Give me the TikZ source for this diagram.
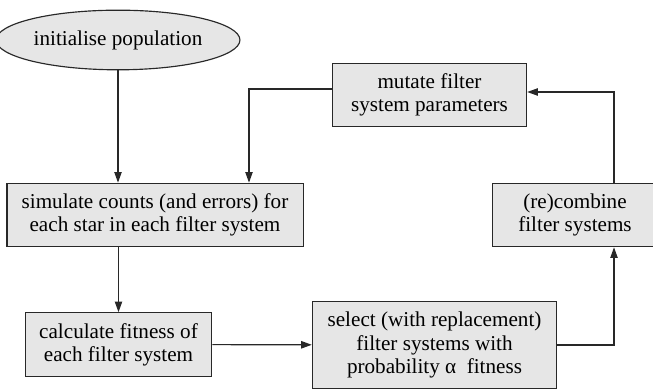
\documentclass[tikz,border=0pt]{standalone}
\usepackage{fontspec}
\newfontfamily\boxfont{Liberation Serif}[Scale=1.1]
\usepackage{tikz}
\usetikzlibrary{shapes.geometric, arrows.meta, positioning, calc}
\definecolor{BoxFill}{RGB}{230, 230, 230}
\definecolor{LineGrey}{RGB}{40, 40, 40}

\begin{document}
\begin{tikzpicture}[
  x=0.52pt, y=0.52pt,
  box/.style={draw=LineGrey, fill=BoxFill, line width=0.6pt,
    minimum height=33pt, align=center, inner sep=2pt, font=\boxfont},
  oval/.style={ellipse, draw=LineGrey, fill=BoxFill, line width=0.6pt,
    minimum width=110pt, minimum height=31pt, inner sep=1pt, font=\boxfont},
  arr/.style={-{Triangle[length=5.5pt, width=3.8pt]}, LineGrey, line width=0.6pt}
]
\useasboundingbox (0,0) rectangle (653,390);

% Left column
\node[oval] (init) at (118, 350) {initialise population};
\node[box, minimum width=154pt] (sim) at (155, 175)
  {simulate counts (and errors) for\\each star in each filter system};
\node[box, minimum width=97pt] (calc) at (118.5, 45.5)
  {calculate fitness of\\each filter system};

% Right side
\node[box, minimum width=101pt] (mutate) at (429.5, 295)
  {mutate filter\\system parameters};
\node[box, minimum width=86pt] (recomb) at (575, 175)
  {(re)combine\\filter systems};
\node[box, minimum width=127pt, minimum height=45pt] (select) at (434.5, 45)
  {select (with replacement)\\filter systems with\\probability α~ fitness};

\coordinate (back) at (249, 301);
\coordinate (up) at (614, 298);

\draw[arr] (init) -- (init.south |- sim.north);
\draw[arr] (sim.south -| calc.north) -- (calc.north);
\draw[arr] (calc) -- (select);
\draw[arr] (select.east) -| (up |- recomb.south);
\draw[arr] (up |- recomb.north) |- (mutate.east |- up);
\draw[arr] (mutate.west |- back) -| (back |- sim.north);
\end{tikzpicture}
\end{document}
